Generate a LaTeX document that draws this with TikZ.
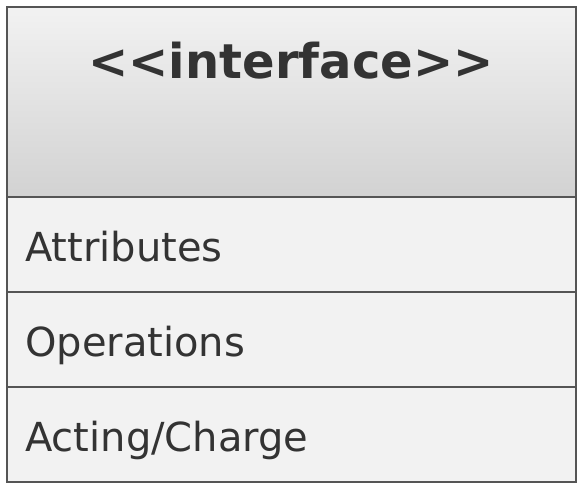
\documentclass[tikz,border=0pt]{standalone}
\usepackage{fontspec}
\setmainfont{DejaVu Sans}[Ligatures=TeXOff]
\usetikzlibrary{shadings}
\definecolor{bordc}{HTML}{555555}
\definecolor{txtc}{HTML}{333333}
\definecolor{rowc}{HTML}{F2F2F2}
\definecolor{gtop}{HTML}{F2F2F2}
\definecolor{gbot}{HTML}{D2D2D2}
\tikzset{
  rowtext/.style={anchor=base west, inner sep=0pt, text=txtc, font=\fontsize{40}{46}\selectfont},
  titletext/.style={anchor=base, inner sep=0pt, text=txtc, font=\fontsize{48}{54}\selectfont\bfseries},
  bord/.style={draw=bordc, line width=2pt}
}
\begin{document}
\begin{tikzpicture}[x=1pt,y=-1pt]
\useasboundingbox (0,0) rectangle (584,490);
\fill[white] (0,0) rectangle (584,490);
\shade[top color=gtop, bottom color=gbot] (7,7) rectangle (576,197);
\fill[rowc] (7,197) rectangle (576,482);
\draw[bord] (7,197) -- (576,197);
\draw[bord] (7,292) -- (576,292);
\draw[bord] (7,387) -- (576,387);
\draw[bord] (7,7) rectangle (576,482);
\node[titletext] (title) at (291,78) {<<interface>>};
\node[rowtext] (attr) at (25,261) {Attributes};
\node[rowtext] (ops) at (25,356) {Operations};
\node[rowtext] (act) at (25,451) {Acting/Charge};
\end{tikzpicture}
\end{document}
